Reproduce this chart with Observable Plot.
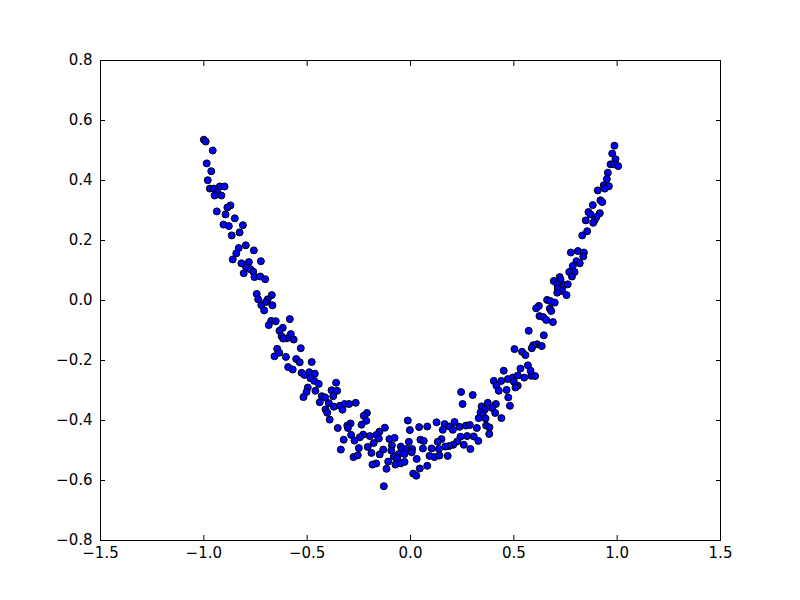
<!DOCTYPE html>
<html><head><meta charset="utf-8">
<script src="https://cdn.jsdelivr.net/npm/d3@7"></script>
<script src="https://cdn.jsdelivr.net/npm/@observablehq/plot@0.6"></script>
<style>body{margin:0;background:#fff} svg{display:block}</style>
</head><body><div id="chart"></div><script>
const xs = [
-1.000,-0.991,-0.957,-0.986,-0.964,-0.981,-0.971,-0.952,-0.923,-0.900,
-0.935,-0.948,-0.915,-0.871,-0.886,-0.937,-0.895,-0.850,-0.905,-0.879,
-0.811,-0.827,-0.865,-0.797,-0.831,-0.758,-0.843,-0.860,-0.818,-0.782,
-0.724,-0.795,-0.774,-0.761,-0.807,-0.755,-0.727,-0.703,-0.744,-0.671,
-0.737,-0.691,-0.722,-0.668,-0.700,-0.708,-0.584,-0.674,-0.652,-0.686,
-0.618,-0.634,-0.579,-0.624,-0.599,-0.565,-0.616,-0.531,-0.645,-0.635,
-0.658,-0.603,-0.553,-0.536,-0.478,-0.592,-0.570,-0.527,-0.513,-0.490,
-0.463,-0.484,-0.465,-0.444,-0.360,-0.497,-0.460,-0.382,-0.355,-0.503,
-0.374,-0.518,-0.429,-0.413,-0.439,-0.395,-0.371,-0.342,-0.319,-0.297,
-0.265,-0.329,-0.411,-0.403,-0.391,-0.211,-0.226,-0.214,-0.290,-0.306,
-0.352,-0.303,-0.237,-0.013,0.126,-0.124,-0.003,0.042,0.081,-0.150,
-0.165,-0.287,-0.229,-0.245,-0.197,-0.153,-0.102,-0.077,-0.323,-0.271,
0.048,0.064,-0.008,-0.178,-0.090,-0.207,-0.047,-0.042,-0.019,0.008,
0.102,0.137,-0.250,-0.132,0.060,0.006,-0.337,-0.189,-0.093,-0.057,
-0.149,-0.029,0.030,0.092,0.116,0.140,-0.276,-0.255,-0.081,-0.064,
-0.108,-0.166,-0.184,-0.073,-0.048,-0.029,0.081,0.045,0.013,0.028,
-0.116,-0.129,0.451,0.403,0.439,0.471,0.495,0.519,0.550,0.584,
0.603,0.500,0.416,0.427,0.465,0.519,0.245,0.301,0.252,0.473,
0.481,0.374,0.413,0.344,0.395,0.360,0.339,0.350,0.410,0.330,
0.363,0.440,0.366,0.382,0.381,0.165,0.213,0.189,0.205,0.237,
0.268,0.287,0.321,0.156,0.274,0.242,0.306,0.328,0.150,0.132,
0.226,0.207,0.187,0.168,0.258,0.290,0.180,0.776,0.810,0.839,
0.836,0.803,0.819,0.785,0.794,0.768,0.781,0.722,0.726,0.693,
0.710,0.742,0.761,0.713,0.734,0.710,0.755,0.661,0.677,0.698,
0.621,0.608,0.674,0.681,0.624,0.642,0.657,0.689,0.572,0.645,
0.613,0.594,0.635,0.587,0.503,0.540,0.556,0.568,0.532,0.581,
0.508,0.987,0.976,0.992,0.968,0.984,1.005,0.955,0.950,0.935,
0.960,0.940,0.906,0.919,0.928,0.882,0.861,0.871,0.916,0.900,
0.892,0.848,0.884,0.855,0.831
];
const ys = [
0.536,0.530,0.500,0.457,0.431,0.401,0.373,0.373,0.380,0.380,
0.361,0.350,0.350,0.317,0.310,0.297,0.287,0.274,0.253,0.248,
0.251,0.227,0.217,0.184,0.175,0.167,0.157,0.137,0.124,0.128,
0.131,0.110,0.104,0.096,0.091,0.078,0.080,0.071,0.022,0.018,
0.004,0.004,-0.015,-0.016,-0.005,-0.033,-0.062,-0.068,-0.069,-0.082,
-0.091,-0.101,-0.112,-0.119,-0.126,-0.130,-0.127,-0.159,-0.161,-0.174,
-0.186,-0.188,-0.195,-0.206,-0.205,-0.222,-0.230,-0.241,-0.248,-0.239,
-0.244,-0.259,-0.268,-0.278,-0.274,-0.290,-0.301,-0.299,-0.301,-0.305,
-0.319,-0.322,-0.319,-0.323,-0.339,-0.342,-0.354,-0.351,-0.345,-0.345,
-0.341,-0.364,-0.363,-0.374,-0.397,-0.375,-0.384,-0.401,-0.410,-0.417,
-0.425,-0.425,-0.414,-0.400,-0.406,-0.424,-0.432,-0.422,-0.420,-0.437,
-0.448,-0.448,-0.447,-0.456,-0.452,-0.460,-0.462,-0.458,-0.464,-0.467,
-0.464,-0.468,-0.471,-0.475,-0.483,-0.488,-0.487,-0.495,-0.495,-0.495,
-0.493,-0.495,-0.492,-0.497,-0.493,-0.506,-0.497,-0.508,-0.500,-0.512,
-0.513,-0.512,-0.528,-0.518,-0.522,-0.517,-0.522,-0.516,-0.521,-0.526,
-0.537,-0.543,-0.547,-0.547,-0.543,-0.538,-0.551,-0.560,-0.577,-0.584,
-0.561,-0.619,-0.234,-0.268,-0.268,-0.262,-0.257,-0.250,-0.257,-0.251,
-0.252,-0.271,-0.284,-0.301,-0.298,-0.284,-0.305,-0.315,-0.345,-0.323,
-0.351,-0.341,-0.345,-0.353,-0.358,-0.363,-0.373,-0.381,-0.375,-0.392,
-0.393,-0.392,-0.417,-0.423,-0.445,-0.412,-0.405,-0.420,-0.431,-0.421,
-0.417,-0.415,-0.425,-0.431,-0.452,-0.454,-0.453,-0.468,-0.462,-0.471,
-0.470,-0.481,-0.485,-0.487,-0.481,-0.495,-0.518,0.160,0.165,0.160,
0.147,0.131,0.124,0.115,0.095,0.095,0.080,0.078,0.069,0.065,
0.054,0.051,0.054,0.041,0.032,0.026,0.018,0.002,-0.002,-0.007,
-0.018,-0.026,-0.027,-0.035,-0.052,-0.055,-0.065,-0.072,-0.101,-0.116,
-0.146,-0.149,-0.152,-0.159,-0.162,-0.171,-0.182,-0.216,-0.227,-0.234,
-0.290,0.516,0.490,0.471,0.454,0.454,0.448,0.426,0.405,0.384,
0.381,0.373,0.367,0.334,0.328,0.318,0.295,0.287,0.291,0.279,
0.268,0.267,0.259,0.231,0.217
];
const xTicks = [-1.5, -1.0, -0.5, 0.0, 0.5, 1.0, 1.5];
const yTicks = [-0.8, -0.6, -0.4, -0.2, 0.0, 0.2, 0.4, 0.6, 0.8];

const points = xs.map((x, i) => ({x, y: ys[i]}));
const fmt = d3.format(".1f");
const blank = () => "";
const font = {fontSize: 15, fontFamily: "DejaVu Sans"};

const chart = Plot.plot({
  width: 800, height: 600,
  marginLeft: 100, marginRight: 80, marginTop: 60, marginBottom: 60,
  style: {fontFamily: "DejaVu Sans", fontSize: "15px", color: "black", background: "white"},
  x: {domain: [-1.5, 1.5], label: null},
  y: {domain: [-0.8, 0.8], label: null},
  marks: [
    Plot.frame({stroke: "black", strokeWidth: 1}),
    Plot.axisX(xTicks, {anchor: "bottom", tickSize: -5, tickPadding: 12, tickFormat: fmt, label: null, ...font}),
    Plot.axisX(xTicks, {anchor: "top", tickSize: -5, tickPadding: 0, tickFormat: blank, label: null}),
    Plot.axisY(yTicks, {anchor: "left", tickSize: -5, tickPadding: 13, tickFormat: fmt, label: null, ...font}),
    Plot.axisY(yTicks, {anchor: "right", tickSize: -5, tickPadding: 0, tickFormat: blank, label: null}),
    Plot.dot(points, {x: "x", y: "y", r: 3.5, fill: "#0000ff", stroke: "black", strokeWidth: 1})
  ]
});
document.getElementById("chart").appendChild(chart);
</script></body></html>
